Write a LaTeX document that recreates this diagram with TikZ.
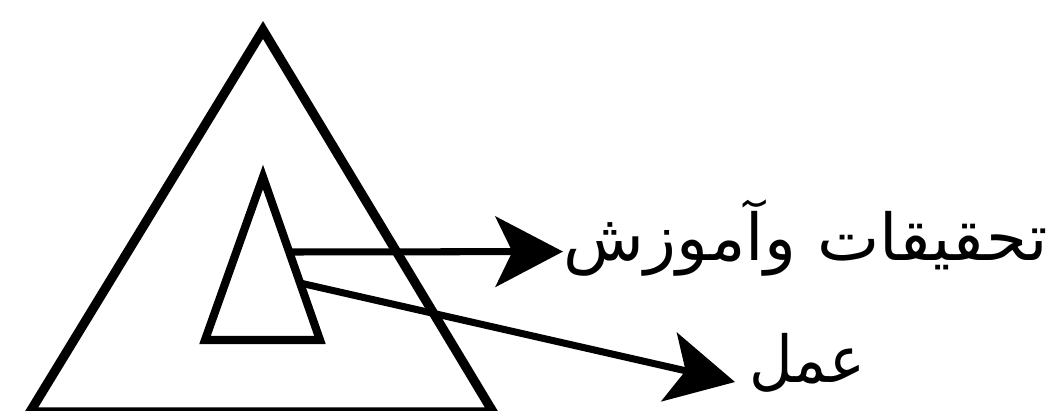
\documentclass[tikz,border=0pt]{standalone}
\usepackage{fontspec}
\usepackage{tikz}
\usetikzlibrary{arrows.meta}
\newfontfamily\arabicfont[Script=Arabic]{DejaVu Sans}
\TeXXeTstate=1

\begin{document}
\begin{tikzpicture}[x=0.025cm, y=-0.025cm,
    tri/.style={line width=6.6pt, line join=miter},
    pointer/.style={line width=5pt, -{Stealth[length=48pt, width=50pt, inset=12pt]}},
    lbl/.style={font=\arabicfont\fontsize{46}{52}\selectfont, inner sep=0pt}]

  \useasboundingbox (0,0) rectangle (1061,410);

  % Outer triangle
  \draw[tri] (263,30) -- (493,412) -- (30,412) -- cycle;

  % Inner triangle
  \draw[tri, line width=5.8pt] (263,177) -- (320,340) -- (205,340) -- cycle;

  % Where the arrows leave the inner triangle
  \coordinate (srcA) at (289,252);
  \coordinate (srcB) at (300,283);

  % Labels
  \node[lbl, anchor=base west] (research) at (563,260)
    {\resizebox{12.1cm}{\height}{\beginR تحقيقات وآموزش\endR}};
  \node[lbl, anchor=base west, inner xsep=10pt] (practice) at (735,382)
    {\resizebox{2.9cm}{\height}{\beginR عمل\endR}};

  % Arrows
  \draw[pointer] (srcA) -- ([yshift=6pt]research.base west);
  \draw[pointer] (srcB) -- (practice.base west);
\end{tikzpicture}
\end{document}
